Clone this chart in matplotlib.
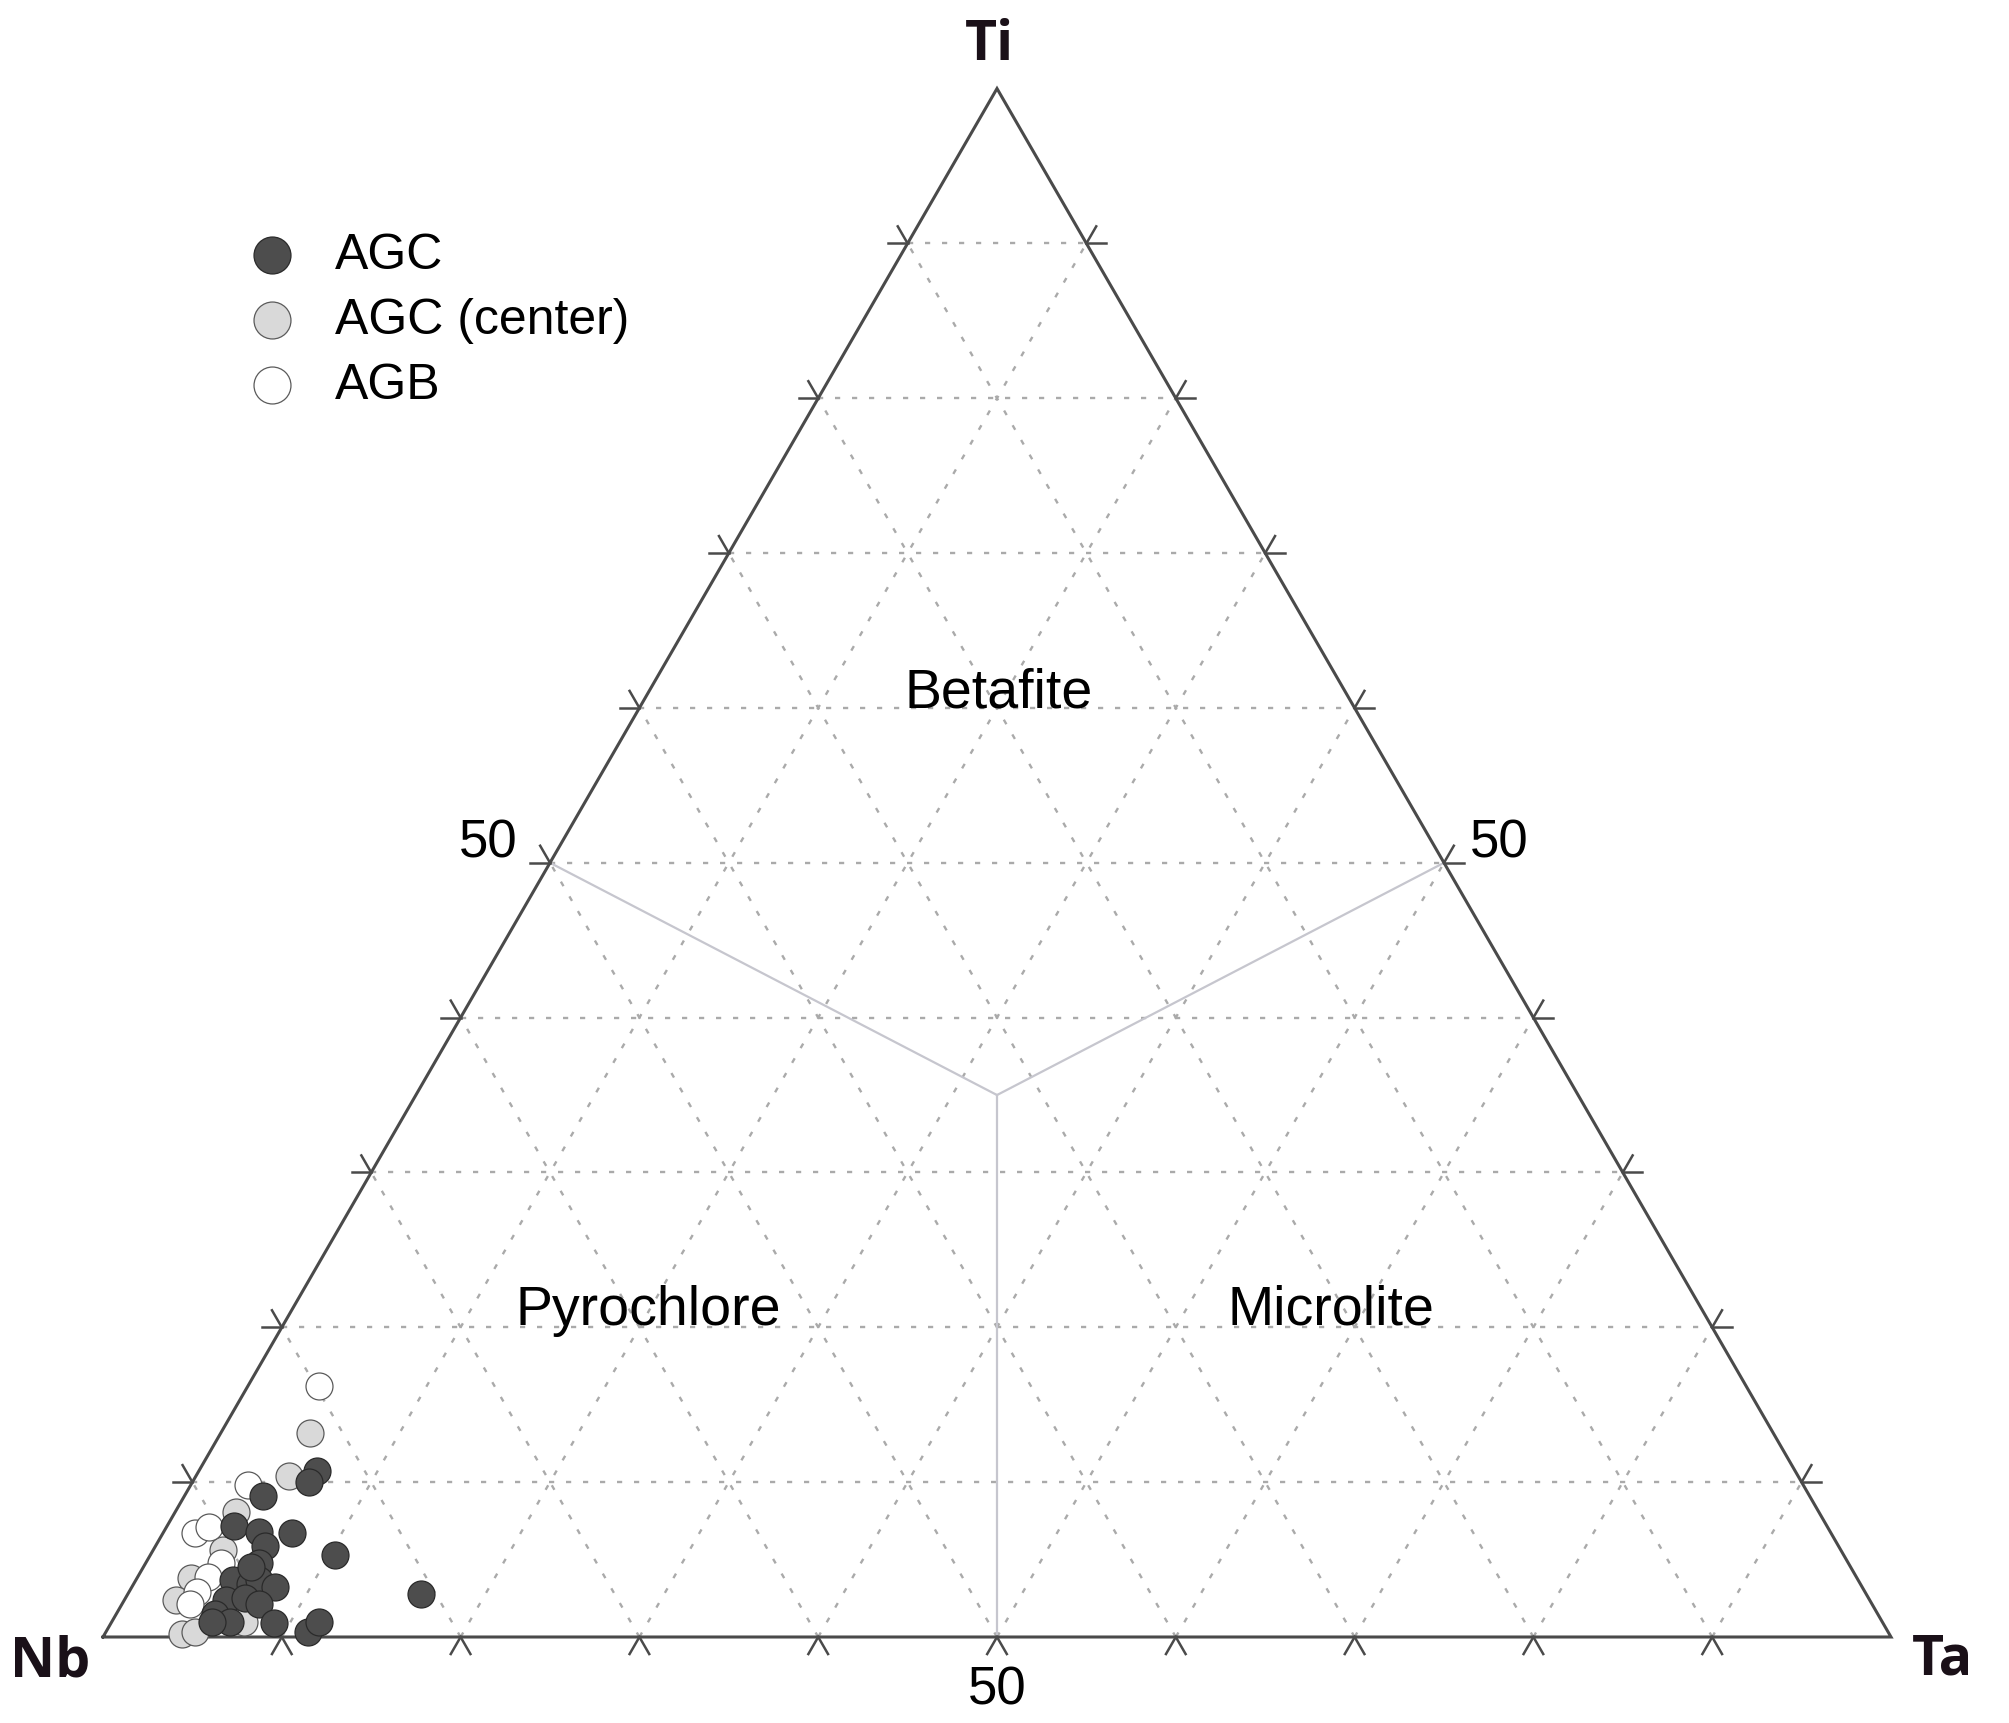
import numpy as np
import matplotlib
matplotlib.use("Agg")
import matplotlib.pyplot as plt

plt.rcParams['font.family'] = ['Liberation Sans', 'DejaVu Sans']

# ternary compositions in % (Nb, Ta, Ti)
agc_nb = [82.7, 83.5, 86.5, 89.1, 87.9, 86.1, 88.0, 84.4, 88.9, 90.9, 90.1, 89.4,
          88.8, 80.8, 91.9, 90.8, 90.2, 93.0, 92.4, 90.0, 88.4, 87.4, 93.4, 89.5]
agc_ta = [6.6, 6.5, 4.4, 3.7, 5.3, 7.2, 6.1, 10.3, 6.3, 5.4, 6.5, 6.9,
          8.0, 16.4, 5.7, 6.7, 7.7, 5.5, 6.6, 9.1, 11.3, 11.6, 5.6, 6.0]
agc_ti = [10.7, 10.0, 9.1, 7.2, 6.8, 6.7, 5.9, 5.3, 4.8, 3.7, 3.4, 3.7,
          3.2, 2.8, 2.4, 2.5, 2.1, 1.5, 1.0, 0.9, 0.3, 1.0, 1.0, 4.5]

cen_nb = [81.8, 84.4, 88.5, 90.5, 93.2, 94.7, 91.6, 95.5, 94.7]
cen_ta = [5.0, 5.2, 3.4, 3.9, 3.0, 2.9, 7.4, 4.3, 5.0]
cen_ti = [13.2, 10.4, 8.1, 5.6, 3.8, 2.4, 1.0, 0.2, 0.3]

agb_nb = [79.8, 87.0, 91.5, 90.5, 91.0, 92.2, 93.3, 94.1]
agb_ta = [4.0, 3.2, 1.8, 2.4, 4.2, 3.9, 3.8, 3.8]
agb_ti = [16.2, 9.8, 6.7, 7.1, 4.8, 3.9, 2.9, 2.1]

# field boundaries: edge points and the junction (Nb, Ta, Ti)
junction = (32.5, 32.5, 35.0)
edge_pts = [(50, 0, 50), (0, 50, 50), (50, 50, 0)]

h = np.sqrt(3) / 2


def tern(nb, ta, ti):
    nb, ta, ti = (np.asarray(v, dtype=float) for v in (nb, ta, ti))
    s = nb + ta + ti
    return (ta + ti / 2) / s, ti / s * h


fig = plt.figure(figsize=(20.09, 17.23), dpi=100)
ax = fig.add_axes([0, 0, 1, 1])
ax.set_xlim(-103 / 1788, (2009 - 103) / 1788)
ax.set_ylim(-86 / 1788, (1723 - 86) / 1788)
ax.set_aspect('equal')
ax.axis('off')

edge_col = '#4a4a4a'
grid_col = '#aaaaaa'

# grid lines every 10 %
for k in range(1, 10):
    f = k * 10
    for a, b in [((100 - f, 0, f), (0, 100 - f, f)),
                 ((100 - f, f, 0), (0, f, 100 - f)),
                 ((f, 100 - f, 0), (f, 0, 100 - f))]:
        x, y = tern([a[0], b[0]], [a[1], b[1]], [a[2], b[2]])
        ax.plot(x, y, color=grid_col, lw=1.7, ls=(0, (2.2, 5.0)), zorder=1)

# field boundaries
for p in edge_pts:
    x, y = tern([p[0], junction[0]], [p[1], junction[1]], [p[2], junction[2]])
    ax.plot(x, y, color='#c6c6ce', lw=1.6, zorder=2)

# outline
x, y = tern([100, 0, 0, 100], [0, 100, 0, 0], [0, 0, 100, 0])
ax.plot(x, y, color=edge_col, lw=2.2, zorder=3, solid_joinstyle='miter')

# ticks: outward continuation of the grid lines
L = 0.011
for k in range(1, 10):
    f = k / 10
    # left edge
    x0, y0 = f / 2, f * h
    for d in [(-1, 0), (-0.5, h)]:
        ax.plot([x0, x0 + L * d[0]], [y0, y0 + L * d[1]], color=edge_col, lw=1.8, zorder=3)
    # right edge
    x0, y0 = 1 - f / 2, f * h
    for d in [(1, 0), (0.5, h)]:
        ax.plot([x0, x0 + L * d[0]], [y0, y0 + L * d[1]], color=edge_col, lw=1.8, zorder=3)
    # bottom edge
    x0, y0 = f, 0
    for d in [(-0.5, -h), (0.5, -h)]:
        ax.plot([x0, x0 + L * d[0]], [y0, y0 + L * d[1]], color=edge_col, lw=1.8, zorder=3)

# data
ms = 377
x, y = tern(cen_nb, cen_ta, cen_ti)
s2 = ax.scatter(x, y, s=ms, c='#d9d9d9', edgecolors='#5a5a5a', linewidths=0.9, zorder=4,
                label='AGC (center)')
x, y = tern(agb_nb, agb_ta, agb_ti)
s3 = ax.scatter(x, y, s=ms, c='white', edgecolors='#5a5a5a', linewidths=0.9, zorder=5,
                label='AGB')
x, y = tern(agc_nb, agc_ta, agc_ti)
s1 = ax.scatter(x, y, s=ms, c='#4d4d4d', edgecolors='#2a2a2a', linewidths=0.9, zorder=6,
                label='AGC')

fig.legend(handles=[s1, s2, s3], loc='upper left', bbox_to_anchor=(0.123, 0.865),
           frameon=False, fontsize=36, markerscale=1.37, handlelength=1.0,
           handletextpad=0.76, labelspacing=0.38, borderpad=0, borderaxespad=0,
           scatterpoints=1)

# labels
bold = dict(fontsize=40, fontweight='bold', family=['Open Sans', 'DejaVu Sans'],
            color='#1a1018', ha='center', va='center')
ax.text(0.496, 0.890, 'Ti', **bold)
ax.text(-0.0296, -0.014, 'Nb', **bold)
ax.text(1.029, -0.013, 'Ta', **bold)

ax.text(0.25 - 0.0347, 0.25 * 2 * h + 0.0106, '50', fontsize=38, ha='center', va='center')
ax.text(0.75 + 0.031, 0.25 * 2 * h + 0.0106, '50', fontsize=38, ha='center', va='center')
ax.text(0.5, -0.030, '50', fontsize=38, ha='center', va='center')

ax.text(0.501, 0.520, 'Betafite', fontsize=40, ha='center', va='baseline', zorder=7)
ax.text(0.305, 0.1745, 'Pyrochlore', fontsize=40, ha='center', va='baseline', zorder=7)
ax.text(0.687, 0.1745, 'Microlite', fontsize=40, ha='center', va='baseline', zorder=7)

fig.savefig('out.png', dpi=100)
